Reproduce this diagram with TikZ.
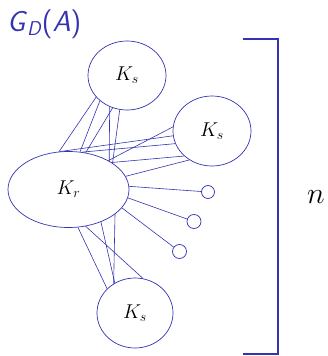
\RequirePackage{fix-cm}
\documentclass[tikz,border=0pt]{standalone}
\usetikzlibrary{shapes.geometric}
\definecolor{sblue}{RGB}{51,51,179}
\begin{document}
\begin{tikzpicture}[x=1pt,y=-1pt,
  blob/.style={draw=sblue,ellipse,inner sep=0pt,line width=0.7pt,font=\fontsize{20}{24}\selectfont},
  leaf/.style={draw=sblue,ellipse,inner sep=0pt,line width=0.7pt},
  edge/.style={draw=sblue,line width=0.6pt},
  brack/.style={draw=sblue,line width=1.4pt}]
\useasboundingbox (0,0) rectangle (327,356);
\node[blob,minimum width=78pt,minimum height=69pt] (top) at (127,75.5) {$K_s$};
\node[blob,minimum width=78pt,minimum height=70pt] (right) at (212,131) {$K_s$};
\node[blob,minimum width=121pt,minimum height=76pt] (kr) at (68.5,189.5) {$K_r$};
\node[blob,minimum width=76pt,minimum height=70pt] (bot) at (135,313) {$K_s$};
\node[leaf,minimum width=13pt,minimum height=13pt] (c1) at (208,192) {};
\node[leaf,minimum width=14pt,minimum height=14pt] (c2) at (194,221.5) {};
\node[leaf,minimum width=14pt,minimum height=14pt] (c3) at (179.5,251.5) {};
% top -- Kr
\draw[edge] (top.215) -- (kr.104);
\draw[edge] (top.223) -- (kr.73);
\draw[edge] (top.241) -- (kr.35);
\draw[edge] (top.246) -- (kr.65);
\draw[edge] (top.258) -- (kr.31);
% right -- Kr
\draw[edge] (right.174) -- (kr.36);
\draw[edge] (right.187) -- (kr.102);
\draw[edge] (right.199) -- (kr.70);
\draw[edge] (right.222) -- (kr.32);
\draw[edge] (right.232) -- (kr.13);
% Kr -- leaves
\draw[edge] (kr.3) -- (c1);
\draw[edge] (kr.-8) -- (c2);
\draw[edge] (kr.-19) -- (c3);
% Kr -- bottom
\draw[edge] (kr.-76) -- (bot.139);
\draw[edge] (kr.-65) -- (bot.77);
\draw[edge] (kr.-45) -- (bot.124);
\draw[edge] (kr.-28) -- (bot.126);
% bracket
\coordinate (b1) at (243,39);
\coordinate (b2) at (278,39);
\coordinate (b3) at (278,354);
\coordinate (b4) at (243,354);
\draw[brack] (b1) -- (b2) -- (b3) -- (b4);
\node[font=\fontsize{30}{32}\selectfont,inner sep=0pt] (n) at (316,197) {$n$};
\node[anchor=base west,text=sblue,font=\fontsize{29}{30}\selectfont\sffamily,inner sep=0pt] (title) at (7,31) {\textsl{G}\raisebox{-4pt}{\fontsize{20}{20}\selectfont\textsl{D}}(\textsl{A})};
\end{tikzpicture}
\end{document}
